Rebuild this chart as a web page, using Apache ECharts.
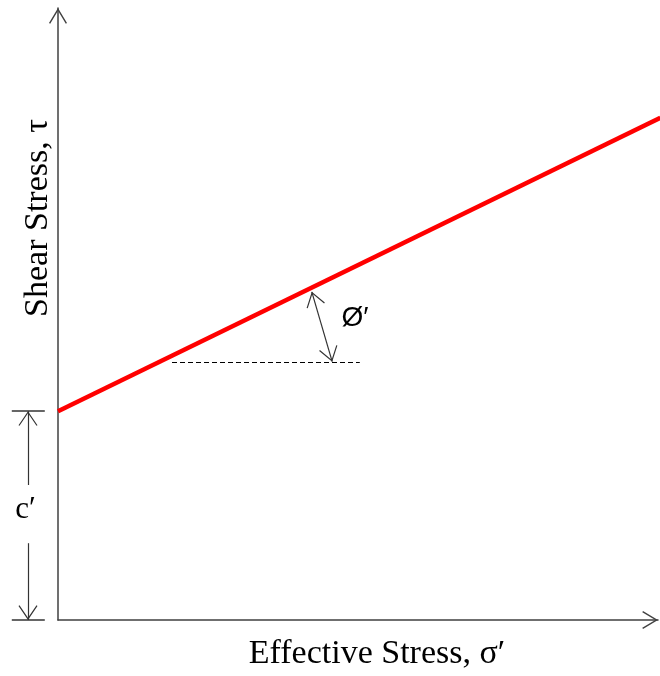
<!DOCTYPE html>
<html><head><meta charset="utf-8">
<script src="https://cdn.jsdelivr.net/npm/echarts@6/dist/echarts.min.js"></script>
<style>html,body{margin:0;padding:0;background:#fff}#c{width:660px;height:676px}</style>
</head><body><div id="c"></div>
<script>
// ---- data (axis units) ----
const envelopeX = [0, 100.4];
const envelopeY = [34.8, 83.7];
const refLineX = [19, 50.3];
const refLineY = [43, 43];
const phiArrowX = [42.3, 45.7];
const phiArrowY = [54.7, 43.05];
const cArrowX = -5;
const cUpperY = [22.5, 34.8];
const cLowerY = [12.8, 0];
const cTickX = [-7.7, -2.2];
const cTickY = [34.8, 0];
const phiLabelPos = [49.5, 50.3];
const cLabelPos = [-5.4, 18.3];
const xTitle = 'Effective Stress, σ′';
const yTitle = 'Shear Stress, τ';
const phiText = 'Ø′';
const cText = 'c′';

// open chevron symbol, tip at the symbol centre
function chevron(w, h, t) {
  const L = Math.hypot(w / 2, h), dx = (w / 2) / L, dy = h / L;
  const ex = w / 2 - t * dy, ey = h + t * dx;
  const s = ex / dx, iy = ey - s * dy;
  const S2 = Math.max(w / 2, ey) + 0.5;
  const f = v => v.toFixed(3);
  const path = 'path://M' + f(-S2) + ',' + f(-S2) + ' M' + f(S2) + ',' + f(S2) +
    ' M' + f(-w / 2) + ',' + f(h) + ' L0,0 L' + f(w / 2) + ',' + f(h) +
    ' L' + f(ex) + ',' + f(ey) + ' L0,' + f(iy) + ' L' + f(-ex) + ',' + f(ey) + ' Z';
  return { path: path, size: 2 * S2 };
}
const axisChev = chevron(18, 15, 1.4);
const annChev = chevron(19, 14, 1.2);

const serif = '"Liberation Serif","Times New Roman",serif';
const narrow = '"Liberation Sans Narrow","Arial Narrow","Liberation Sans",Arial,sans-serif';
const axisColor = '#404040';

const chart = echarts.init(document.getElementById('c'), null, { renderer: 'canvas' });
chart.setOption({
  animation: false,
  backgroundColor: '#fff',
  grid: { left: 58, right: 2, top: 8, bottom: 56, containLabel: false, outerBoundsMode: 'none' },
  xAxis: {
    type: 'value', min: 0, max: 100,
    axisLine: { show: true, onZero: false, symbol: ['none', axisChev.path], symbolSize: [axisChev.size, axisChev.size],
      lineStyle: { color: axisColor, width: 1.5 } },
    axisTick: { show: false }, axisLabel: { show: false }, splitLine: { show: false },
    name: xTitle, nameLocation: 'middle', nameGap: 17,
    nameTextStyle: { fontFamily: serif, fontSize: 34, color: '#000', padding: [0, 0, 0, 38] }
  },
  yAxis: {
    type: 'value', min: 0, max: 102,
    axisLine: { show: true, onZero: false, symbol: ['none', axisChev.path], symbolSize: [axisChev.size, axisChev.size],
      lineStyle: { color: axisColor, width: 1.5 } },
    axisTick: { show: false }, axisLabel: { show: false }, splitLine: { show: false },
    name: yTitle, nameLocation: 'middle', nameGap: 3, nameRotate: 90,
    nameTextStyle: { fontFamily: serif, fontSize: 34, color: '#000', padding: [0, 0, 0, 192] }
  },
  series: [
    {
      type: 'lines', coordinateSystem: 'cartesian2d', clip: false, silent: true,
      lineStyle: { color: '#000', width: 1, type: [5, 3], opacity: 1 },
      data: [{ coords: [[refLineX[0], refLineY[0]], [refLineX[1], refLineY[1]]] }]
    },
    {
      type: 'line', clip: false, symbol: 'none', silent: true,
      lineStyle: { color: '#ff0000', width: 4.5 },
      data: envelopeX.map((x, i) => [x, envelopeY[i]])
    },
    {
      type: 'lines', coordinateSystem: 'cartesian2d', clip: false, silent: true,
      symbol: [annChev.path, annChev.path], symbolSize: annChev.size,
      lineStyle: { color: '#333', width: 1.2, opacity: 1 },
      data: [{ coords: [[phiArrowX[0], phiArrowY[0]], [phiArrowX[1], phiArrowY[1]]] }]
    },
    {
      type: 'lines', coordinateSystem: 'cartesian2d', clip: false, silent: true,
      symbol: ['none', annChev.path], symbolSize: annChev.size,
      lineStyle: { color: '#333', width: 1.2, opacity: 1 },
      data: [
        { coords: [[cArrowX, cUpperY[0]], [cArrowX, cUpperY[1]]] },
        { coords: [[cArrowX, cLowerY[0]], [cArrowX, cLowerY[1]]] }
      ]
    },
    {
      type: 'lines', coordinateSystem: 'cartesian2d', clip: false, silent: true,
      lineStyle: { color: '#333', width: 1.5, opacity: 1 },
      data: cTickY.map(y => ({ coords: [[cTickX[0], y], [cTickX[1], y]] }))
    },
    {
      type: 'scatter', clip: false, silent: true, symbolSize: 1,
      itemStyle: { color: 'rgba(255,255,255,0)', opacity: 1 },
      label: { show: true, position: 'inside', formatter: p => p.data.t, color: '#000', textBorderWidth: 0 },
      data: [
        { value: phiLabelPos, t: phiText, label: { fontFamily: narrow, fontSize: 28, color: '#000' } },
        { value: cLabelPos, t: cText, label: { fontFamily: serif, fontSize: 31, color: '#000' } }
      ]
    }
  ]
});
</script></body></html>
